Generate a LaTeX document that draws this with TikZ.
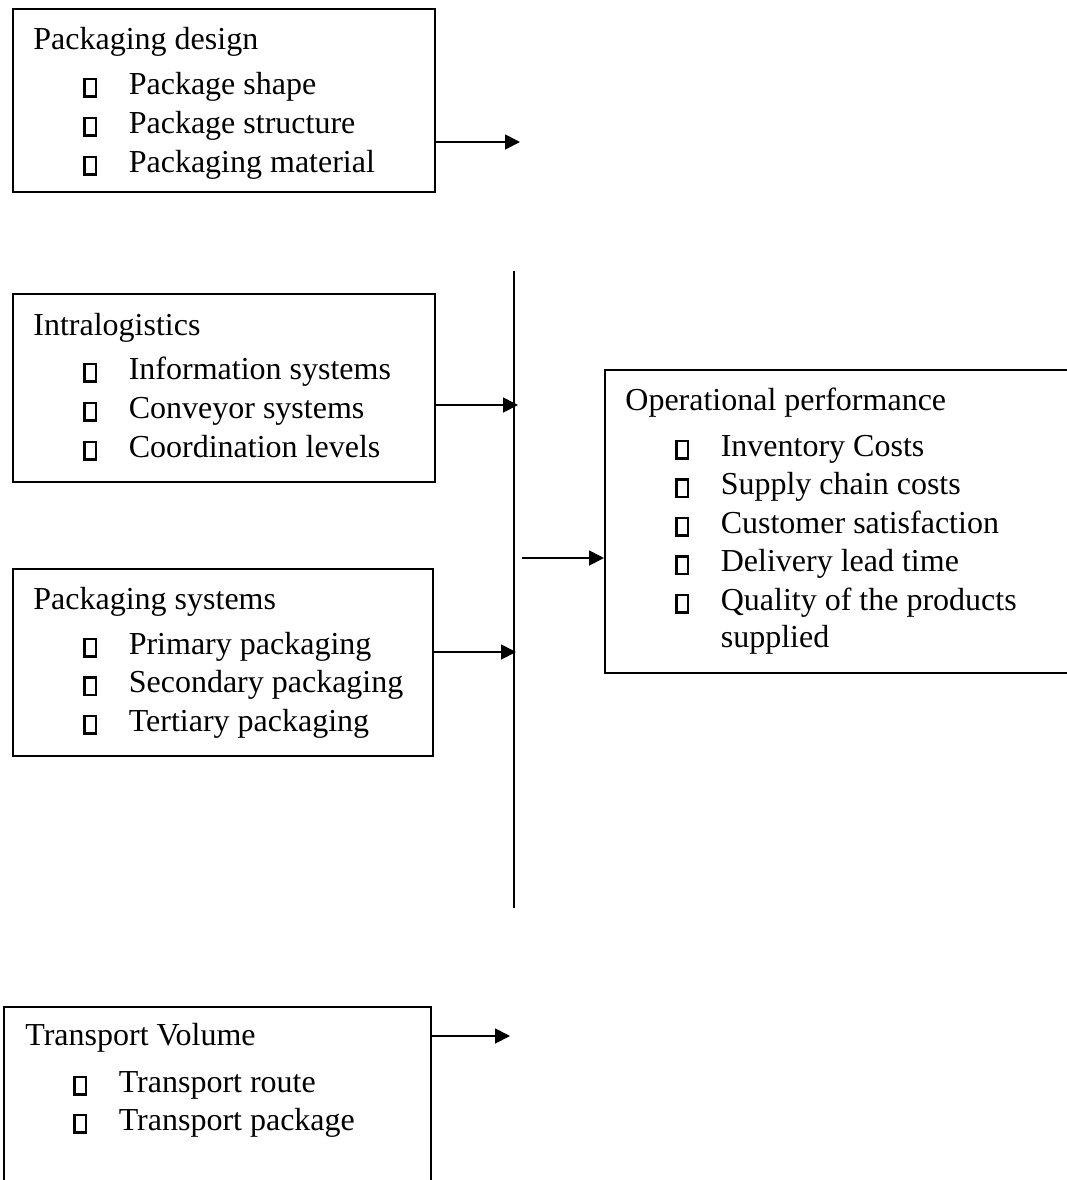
\documentclass[tikz,border=0pt]{standalone}
\usepackage{fontspec}
\setmainfont{Liberation Serif}
\usetikzlibrary{arrows.meta}
\tikzstyle{factor} = [rectangle, draw=black, line width=0.9pt, inner sep=0pt, anchor=north west]
\tikzstyle{heading} = [inner sep=0pt, anchor=base west]
\tikzstyle{point} = [inner sep=0pt, anchor=base west]
\tikzstyle{arrow} = [line width=0.9pt,->,>={Triangle[length=7.5pt,width=7.5pt]}]
\newcommand{\sqmark}{\makebox[22.7pt][l]{\raisebox{-0.6pt}{\setlength{\fboxsep}{0pt}\setlength{\fboxrule}{1.2pt}\fbox{\rule{0pt}{7.6pt}\hspace{4.6pt}}}}}

\begin{document}
\begin{tikzpicture}[x=0.5pt, y=-0.5pt, font=\fontsize{16pt}{19.5pt}\selectfont]
\useasboundingbox (0,0) rectangle (1067,1180);

% boxes
\node (design) [factor, minimum width=211pt, minimum height=91.5pt] at (12,8) {};
\node (intra) [factor, minimum width=211pt, minimum height=94pt] at (12,293) {};
\node (psys) [factor, minimum width=210pt, minimum height=93.5pt] at (12,568) {};
\node (perf) [factor, minimum width=235.5pt, minimum height=151.5pt] at (604,369) {};
\node (transport) [factor, minimum width=213.5pt, minimum height=92pt] at (3,1006) {};

% texts
\node (designhead) [heading] at (33,49) {Packaging design};
\node (design1) [point] at (83,94) {\sqmark Package shape};
\node (design2) [point] at (83,133) {\sqmark Package structure};
\node (design3) [point] at (83,172) {\sqmark Packaging material};

\node (intrahead) [heading] at (33,335) {Intralogistics};
\node (intra1) [point] at (83,379) {\sqmark Information systems};
\node (intra2) [point] at (83,418) {\sqmark Conveyor systems};
\node (intra3) [point] at (83,457) {\sqmark Coordination levels};

\node (psyshead) [heading] at (33,609) {Packaging systems};
\node (psys1) [point] at (83,654) {\sqmark Primary packaging};
\node (psys2) [point] at (83,692.5) {\sqmark Secondary packaging};
\node (psys3) [point] at (83,731) {\sqmark Tertiary packaging};

\node (perfhead) [heading] at (625,410) {Operational performance};
\node (perf1) [point] at (675,456) {\sqmark Inventory Costs};
\node (perf2) [point] at (675,494.5) {\sqmark Supply chain costs};
\node (perf3) [point] at (675,533) {\sqmark Customer satisfaction};
\node (perf4) [point] at (675,571.5) {\sqmark Delivery lead time};
\node (perf5) [point] at (675,610) {\sqmark Quality of the products};
\node (perf5b) [point] at ([shift={(22.7pt,-18.5pt)}]perf5.base west) {supplied};

\node (transporthead) [heading] at (25,1045) {Transport Volume};
\node (transport1) [point] at (73,1092) {\sqmark Transport route};
\node (transport2) [point] at (73,1130) {\sqmark Transport package};

% collecting line
\coordinate (bustop) at (514,271);
\coordinate (busbot) at (514,908);
\draw [line width=0.9pt] (bustop) -- (busbot);

% arrow ends
\coordinate (designend) at (520,142);
\coordinate (intraend) at (518,405);
\coordinate (psysend) at (516,652);
\coordinate (busout) at (522,558);
\coordinate (transportend) at (510,1036);

\draw [arrow] (design.east |- designend) -- (designend);
\draw [arrow] (intra.east |- intraend) -- (intraend);
\draw [arrow] (psys.east |- psysend) -- (psysend);
\draw [arrow] (busout) -- (perf.west |- busout);
\draw [arrow] (transport.east |- transportend) -- (transportend);
\end{tikzpicture}
\end{document}
